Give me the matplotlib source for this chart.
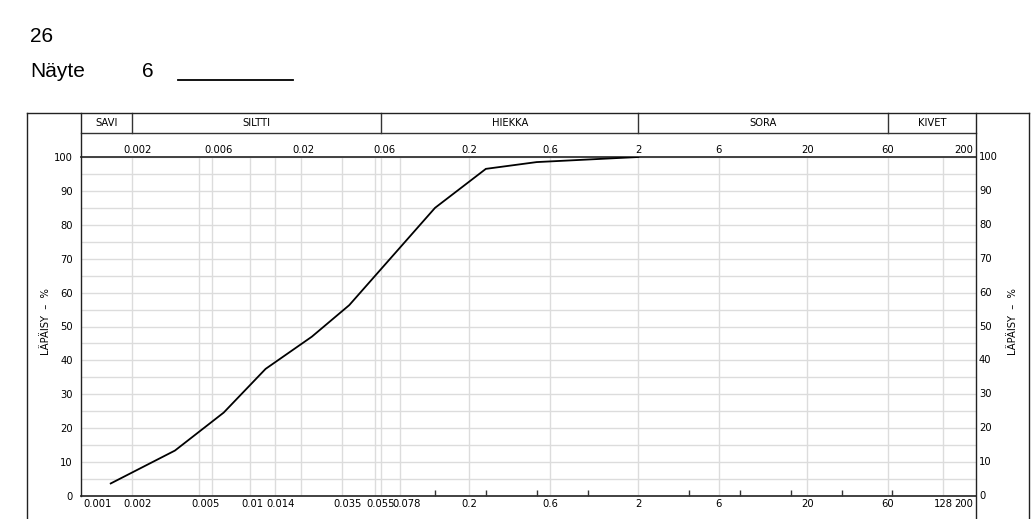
import matplotlib
matplotlib.use("Agg")
import matplotlib.pyplot as plt
from matplotlib.lines import Line2D
from matplotlib.transforms import blended_transform_factory, ScaledTranslation

# ---------------- data ----------------
grain_size_mm = [0.0015, 0.0036, 0.007, 0.0124, 0.0233, 0.0388, 0.125, 0.25, 0.5, 2.0]
passing_pct = [3.7, 13.4, 24.6, 37.5, 47.0, 56.3, 85.0, 96.5, 98.5, 100.0]

grid_sizes = [0.002, 0.005, 0.006, 0.01, 0.014, 0.02, 0.035, 0.055, 0.06, 0.078,
              0.2, 0.6, 2, 6, 20, 60, 128]
bottom_labels = ["0.001", "0.002", "0.005", "0.01", "0.014", "0.035", "0.055", "0.078",
                 "0.2", "0.6", "2", "6", "20", "60", "128", "200"]
top_labels = ["0.002", "0.006", "0.02", "0.06", "0.2", "0.6", "2", "6", "20", "60", "200"]
sieve_ticks = [0.125, 0.25, 0.5, 1, 4, 8, 16, 32, 64]
class_bounds = [0.001, 0.002, 0.06, 2, 60, 200]
class_names = ["SAVI", "SILTTI", "HIEKKA", "SORA", "KIVET"]
y_ticks = list(range(0, 101, 10))
y_grid = list(range(0, 101, 5))

title_num = "26"
sample_label = "Näyte"
sample_no = "6"
y_label = "LÄPÄISY  –  %"

# ---------------- layout ----------------
W, H = 1034, 519
fig = plt.figure(figsize=(W / 100, H / 100), dpi=100)
fig.patch.set_facecolor("white")

AX_L, AX_R, AX_T, AX_B = 81, 976, 157, 496
ax = fig.add_axes([AX_L / W, (H - AX_B) / H, (AX_R - AX_L) / W, (AX_B - AX_T) / H])
ax.set_xscale("log")
ax.set_xlim(class_bounds[0], class_bounds[-1])
ax.set_ylim(0, 100)

small_font = dict(family=["DejaVu Sans"], fontsize=7.2)
grid_col = "#dcdcdc"

for g in grid_sizes:
    ax.axvline(g, color=grid_col, lw=1.0, zorder=1)
for yy in y_grid:
    ax.axhline(yy, color=grid_col, lw=1.0, zorder=1)

ax.plot(grain_size_mm, passing_pct, color="black", lw=1.3, zorder=3,
        solid_joinstyle="miter")

# spines
for s in ["left", "right"]:
    ax.spines[s].set_visible(False)
ax.spines["top"].set_color("#333333")
ax.spines["top"].set_linewidth(1.3)
ax.spines["bottom"].set_color("#333333")
ax.spines["bottom"].set_linewidth(1.3)

# ticks
ax.set_xticks([])
ax.set_xticks(sieve_ticks, minor=True)
ax.set_xticklabels([], minor=True)
ax.tick_params(axis="x", which="minor", direction="in", length=4, width=1.0,
               color="#333333", bottom=True, top=False)
ax.set_yticks(y_ticks)
ax.set_yticklabels([str(v) for v in y_ticks], **small_font)
ax.tick_params(axis="y", which="major", length=0, pad=6)

trans_xa = blended_transform_factory(ax.transData, ax.transAxes)


def label_at(val, txt, ypos, va):
    """Place a size label at data value val."""
    if txt.startswith("0.") and val > class_bounds[0]:
        off = ScaledTranslation(-8 / 100, 0, fig.dpi_scale_trans)
        ha = "left"
    elif val == class_bounds[0]:
        off = ScaledTranslation(2 / 100, 0, fig.dpi_scale_trans)
        ha = "left"
    elif val == class_bounds[-1]:
        off = ScaledTranslation(-3 / 100, 0, fig.dpi_scale_trans)
        ha = "right"
    else:
        off = ScaledTranslation(0, 0, fig.dpi_scale_trans)
        ha = "center"
    ax.text(val, ypos, txt, transform=trans_xa + off, ha=ha, va=va,
            clip_on=False, **small_font)


bot_y = -8 / (AX_B - AX_T)
for t in bottom_labels:
    label_at(float(t), t, bot_y, "center")
top_y = 1 + 7 / (AX_B - AX_T)
for t in top_labels:
    label_at(float(t), t, top_y, "center")

# right-hand y labels
for v in y_ticks:
    ax.text(1.0, v, str(v), transform=blended_transform_factory(ax.transAxes, ax.transData)
            + ScaledTranslation(3 / 100, 0, fig.dpi_scale_trans),
            ha="left", va="center", clip_on=False, **small_font)

# ---------------- header band ----------------
BAND_T, BAND_M = 113, 133
row1_top = (AX_B - BAND_T) / (AX_B - AX_T)
row1_bot = (AX_B - BAND_M) / (AX_B - AX_T)
ax.plot([class_bounds[0], class_bounds[-1]], [row1_bot, row1_bot], transform=trans_xa,
        color="#333333", lw=1.0, clip_on=False)
for b in class_bounds[1:-1]:
    ax.plot([b, b], [row1_bot, row1_top], transform=trans_xa, color="#333333",
            lw=1.0, clip_on=False)
for i, name in enumerate(class_names):
    lo, hi = class_bounds[i], class_bounds[i + 1]
    mid = (lo * hi) ** 0.5
    ax.text(mid, (row1_top + row1_bot) / 2, name, transform=trans_xa, ha="center",
            va="center", clip_on=False, **small_font)


def fig_line(x0, y0, x1, y1, **kw):
    fig.add_artist(Line2D([x0 / W, x1 / W], [1 - y0 / H, 1 - y1 / H],
                          transform=fig.transFigure, **kw))


frame_col = "#222222"
fig_line(27, BAND_T, 1029, BAND_T, color=frame_col, lw=1.0)
fig_line(27, BAND_T, 27, H, color=frame_col, lw=1.0)
fig_line(1029, BAND_T, 1029, H, color=frame_col, lw=1.0)
fig_line(AX_L, BAND_T, AX_L, AX_B, color=frame_col, lw=1.0)
fig_line(AX_R, BAND_T, AX_R, H, color=frame_col, lw=1.0)

# axis titles
fig.text(46 / W, 1 - 322 / H, y_label, rotation=90, ha="center", va="center",
         **small_font)
fig.text(1013 / W, 1 - 322 / H, y_label, rotation=90, ha="center", va="center",
         **small_font)

# header text
head_font = dict(family=["Liberation Sans Narrow", "Liberation Sans", "DejaVu Sans"],
                 fontsize=15)
fig.text(30 / W, 1 - 37 / H, title_num, ha="left", va="center", **head_font)
fig.text(30 / W, 1 - 72 / H, sample_label, ha="left", va="center", **head_font)
fig.text(142 / W, 1 - 72 / H, sample_no, ha="left", va="center", **head_font)
fig_line(178, 80, 293, 80, color="black", lw=1.3)

fig.savefig("out.png", dpi=100, facecolor="white")
